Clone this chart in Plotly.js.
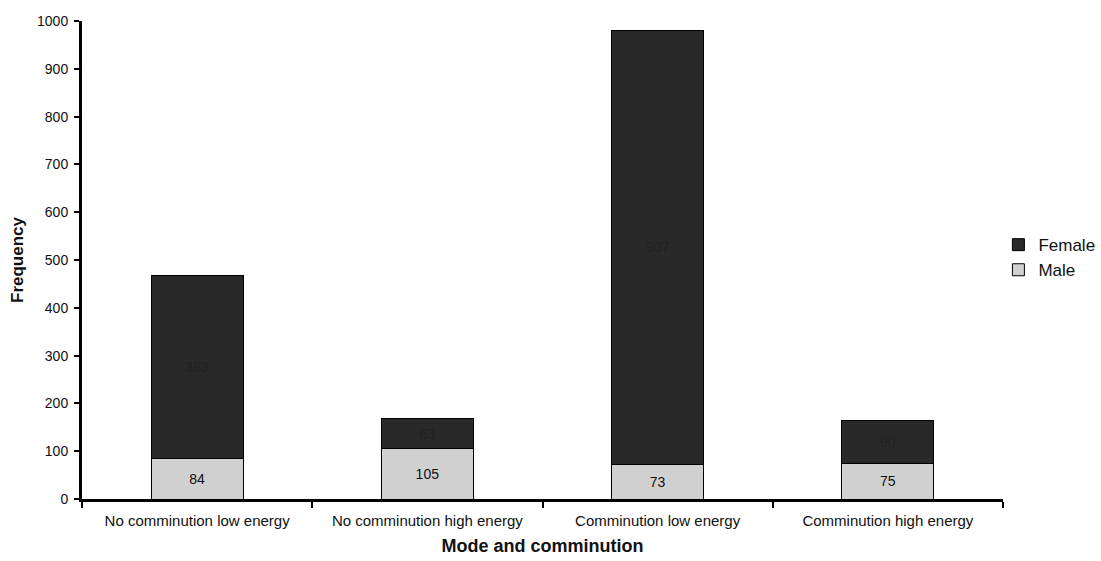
<!DOCTYPE html>
<html><head><meta charset="utf-8">
<script src="https://cdn.plot.ly/plotly-3.0.1.min.js"></script>
<style>html,body{margin:0;padding:0;background:#fff}</style>
</head><body>
<div id="chart" style="width:1101px;height:561px"></div>
<script>
var categories = ["No comminution low energy", "No comminution high energy", "Comminution low energy", "Comminution high energy"];
var maleValues = [84, 105, 73, 75];
var femaleValues = [383, 63, 907, 90];
var yTicks = [0, 100, 200, 300, 400, 500, 600, 700, 800, 900, 1000];

var male = {
  type: "bar", name: "Male", x: categories, y: maleValues,
  text: maleValues.map(String), textposition: "inside", insidetextanchor: "middle",
  textfont: {family: "Liberation Sans, Arial, sans-serif", size: 14, color: "#111"},
  marker: {color: "#d0d0d0", line: {color: "#000", width: 1}}
};
var female = {
  type: "bar", name: "Female", x: categories, y: femaleValues,
  text: femaleValues.map(String), textposition: "inside", insidetextanchor: "middle",
  textfont: {family: "Liberation Sans, Arial, sans-serif", size: 14, color: "#222"},
  marker: {color: "#292929", line: {color: "#000", width: 1}}
};

var layout = {
  width: 1101, height: 561,
  margin: {l: 82, r: 98, t: 21, b: 62, autoexpand: false},
  paper_bgcolor: "#fff", plot_bgcolor: "#fff",
  barmode: "stack", bargap: 0.6,
  font: {family: "Liberation Sans, Arial, sans-serif", color: "#111"},
  showlegend: true,
  legend: {x: 0.995, y: 0.505, xanchor: "left", yanchor: "middle", traceorder: "reversed",
           font: {size: 17, color: "#111"}, bgcolor: "rgba(0,0,0,0)", itemwidth: 30,
           tracegroupgap: 0},
  xaxis: {
    type: "category", showline: true, linecolor: "#000", linewidth: 3,
    ticks: "outside", ticklen: 6, tickwidth: 2, tickcolor: "#000", tickson: "boundaries",
    ticklabelstandoff: 6,
    showgrid: false, zeroline: false,
    tickfont: {size: 15, color: "#111"},
    title: {text: "<b>Mode and comminution</b>", font: {size: 18, color: "#111"}, standoff: 12}
  },
  yaxis: {
    range: [0, 1000], tickvals: yTicks, ticktext: yTicks.map(String),
    showline: true, linecolor: "#000", linewidth: 3,
    ticks: "outside", ticklen: 5, tickwidth: 2, tickcolor: "#000",
    ticklabelstandoff: 3,
    showgrid: false, zeroline: false,
    tickfont: {size: 14, color: "#111"},
    title: {text: "<b>Frequency</b>", font: {size: 17, color: "#111"}, standoff: 10}
  }
};

Plotly.newPlot("chart", [male, female], layout, {displayModeBar: false, staticPlot: true});
</script>
</body></html>
